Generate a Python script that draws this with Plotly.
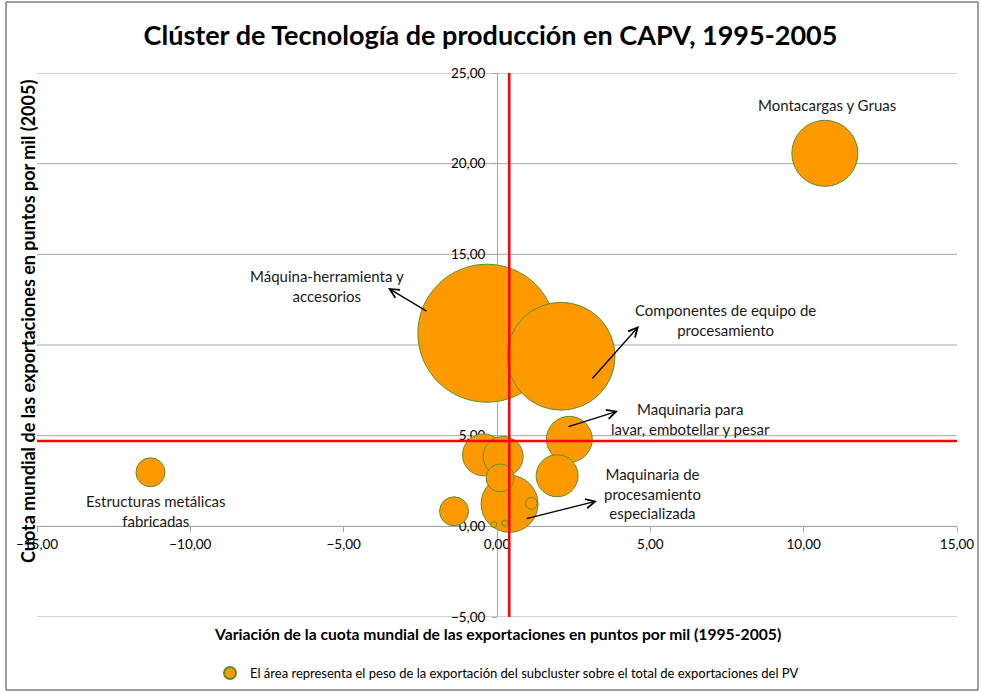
import plotly.graph_objects as go

# ---------------- data ----------------
subclusters = [
    "Máquina-herramienta y accesorios",
    "Componentes de equipo de procesamiento",
    "Montacargas y Gruas",
    "Maquinaria de procesamiento especializada",
    "Maquinaria para lavar, embotellar y pesar",
    "Subcluster 7",
    "Subcluster 10",
    "Subcluster 8",
    "Estructuras metálicas fabricadas",
    "Subcluster 11",
    "Subcluster 9",
    "Subcluster 12",
    "Subcluster 13",
    "Subcluster 14",
]
var_cuota = [-0.33, 2.09, 10.69, 0.41, 2.36, -0.44, 1.96, 0.20, -11.30, -1.40, 0.10, 1.12, -0.10, 0.26]
cuota_2005 = [10.65, 9.38, 20.57, 1.24, 4.80, 3.94, 2.79, 3.85, 2.98, 0.83, 2.67, 1.27, 0.10, 0.18]
peso_export = [19.0, 11.6, 4.35, 3.24, 2.10, 1.76, 1.76, 1.60, 0.84, 0.84, 0.78, 0.14, 0.025, 0.009]

ref_x = 0.4   # media variación
ref_y = 4.7   # media cuota

x_ticks = [-15, -10, -5, 0, 5, 10, 15]
y_ticks = [-5, 0, 5, 10, 15, 20, 25]

# ---------------- geometry helpers ----------------
W, H = 981, 693
L, R, T, B = 37, 957, 73, 617


def px_paper(px, py):
    return (px - L) / (R - L), (B - py) / (B - T)


def px_data(px, py):
    return -15 + (px - L) / (R - L) * 30, -5 + (B - py) / (B - T) * 30


FONT = "Lato, 'Noto Sans', sans-serif"
ORANGE = "#ff9900"
GREEN = "#5a8f29"
GRID = "#a6a6a6"

fig = go.Figure()

max_d = 138.0
sizeref = 2 * max(peso_export) / (max_d ** 2)

fig.add_trace(go.Scatter(
    x=var_cuota, y=cuota_2005, mode="markers",
    text=subclusters,
    marker=dict(size=peso_export, sizemode="area", sizeref=sizeref, sizemin=3,
                color=ORANGE, opacity=1, line=dict(color=GREEN, width=1)),
    name="El área representa el peso de la exportación del subcluster sobre el total de exportaciones del PV",
    showlegend=True,
))

fig.add_trace(go.Scatter(x=[ref_x, ref_x], y=[y_ticks[0], y_ticks[-1]], mode="lines",
                         line=dict(color="#ff0000", width=2.5), showlegend=False, hoverinfo="skip"))
fig.add_trace(go.Scatter(x=[x_ticks[0], x_ticks[-1]], y=[ref_y, ref_y], mode="lines",
                         line=dict(color="#ff0000", width=2.5), showlegend=False, hoverinfo="skip"))

annotations = []

# labels (pixel positions of text centers)
labels = [
    ("Montacargas y Gruas", 827, 105),
    ("Máquina-herramienta y<br>accesorios", 327, 286),
    ("Componentes de equipo de<br>procesamiento", 725, 320),
    ("Maquinaria para<br>lavar, embotellar y pesar", 690, 419),
    ("Maquinaria de<br>procesamiento<br>especializada", 652, 493),
    ("Estructuras metálicas<br>fabricadas", 156, 511),
]
for txt, px, py in labels:
    xd, yd = px_data(px, py)
    annotations.append(dict(x=xd, y=yd, xref="x", yref="y", text=txt, showarrow=False,
                            xanchor="center", yanchor="middle",
                            font=dict(family=FONT, size=15, color="#1a1a1a"), align="center"))

# arrows: (head px, head py, tail px, tail py)
arrows = [
    (388, 288, 428, 312),
    (639, 326, 591, 380),
    (618, 411, 567, 427),
    (597, 501, 525, 519),
]
for hx, hy, tx, ty in arrows:
    hxd, hyd = px_data(hx, hy)
    txd, tyd = px_data(tx, ty)
    annotations.append(dict(x=hxd, y=hyd, ax=txd, ay=tyd, xref="x", yref="y", axref="x", ayref="y",
                            text="", showarrow=True, arrowhead=5, arrowsize=1.4, arrowwidth=1.3,
                            arrowcolor="#000000"))

# axis titles
xa, ya = px_paper(497, 634)
annotations.append(dict(x=xa, y=ya, xref="paper", yref="paper", showarrow=False,
                        xanchor="center", yanchor="middle",
                        text="Variación de la cuota mundial de las exportaciones en puntos por mil (1995-2005)",
                        font=dict(family=FONT, size=15.7, color="#000000", weight="bold")))
xa, ya = px_paper(28, 322)
annotations.append(dict(x=xa, y=ya, xref="paper", yref="paper", showarrow=False, textangle=-90,
                        xanchor="center", yanchor="middle",
                        text="Cuota mundial de las exportaciones en puntos por mil (2005)",
                        font=dict(family=FONT, size=18, color="#000000", weight="bold")))

shapes = []
# horizontal gridlines
for yv in y_ticks:
    shapes.append(dict(type="line", xref="x", yref="y", x0=x_ticks[0], x1=x_ticks[-1], y0=yv, y1=yv,
                       line=dict(color=GRID, width=1), layer="below"))

bx0, by0 = px_paper(6, 690)
bx1, by1 = px_paper(978, 2)
shapes.append(dict(type="rect", xref="paper", yref="paper", x0=bx0, y0=by0, x1=bx1, y1=by1,
                   line=dict(color="#404040", width=1), fillcolor="rgba(0,0,0,0)", layer="below"))

fig.update_layout(
    width=W, height=H,
    margin=dict(l=L, r=W - R, t=T, b=H - B, autoexpand=False),
    paper_bgcolor="white", plot_bgcolor="white",
    separators=",.",
    font=dict(family=FONT, size=13, color="#000000"),
    title=dict(text="<b>Clúster de Tecnología de producción en CAPV, 1995-2005</b>",
               x=0.5, xref="container", xanchor="center", y=1 - 36 / H, yref="container",
               yanchor="middle",
               font=dict(family=FONT, size=27, color="#000000")),
    xaxis=dict(range=[x_ticks[0], x_ticks[-1]], tickvals=x_ticks, tickformat=".2f",
               anchor="free", position=(0 - y_ticks[0]) / (y_ticks[-1] - y_ticks[0]),
               showline=True, linecolor=GRID, linewidth=1, ticks="outside", ticklen=5,
               tickcolor=GRID, showgrid=False, zeroline=False, layer="below traces",
               automargin=False,
               tickfont=dict(family=FONT, size=13.5, color="#000000")),
    yaxis=dict(range=[y_ticks[0], y_ticks[-1]], tickvals=y_ticks, tickformat=".2f",
               anchor="free", position=(0 - x_ticks[0]) / (x_ticks[-1] - x_ticks[0]),
               showline=True, linecolor=GRID, linewidth=1, ticks="outside", ticklen=5,
               tickcolor=GRID, showgrid=False, zeroline=False,
               layer="below traces", ticklabelstandoff=4, automargin=False,
               tickfont=dict(family=FONT, size=13.5, color="#000000")),
    legend=dict(orientation="h", xref="container", yref="container",
                x=507 / W, y=1 - 673 / H, xanchor="center", yanchor="middle",
                font=dict(family=FONT, size=13, color="#000000"), itemsizing="constant",
                itemwidth=30, bgcolor="rgba(0,0,0,0)"),
    annotations=annotations,
    shapes=shapes,
)

fig.write_html("out.html", config={"displayModeBar": False},
               post_script="document.body.style.margin='0px';")
